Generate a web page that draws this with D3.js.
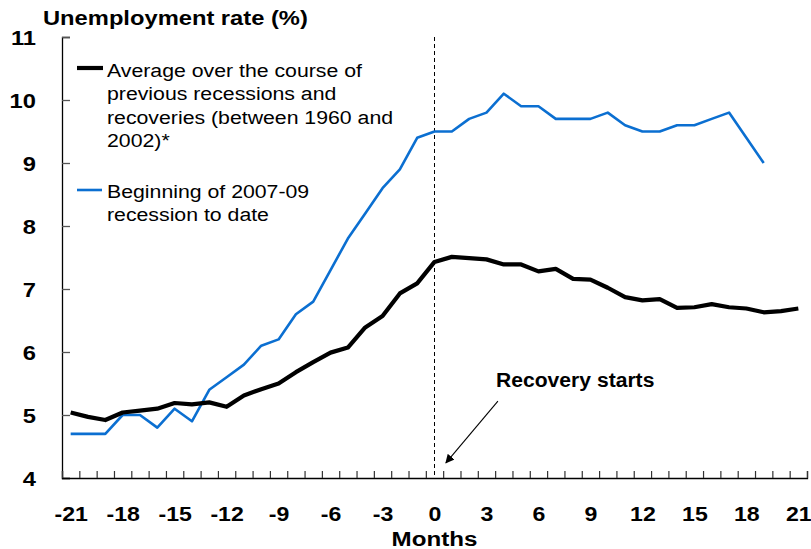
<!DOCTYPE html>
<html>
<head>
<meta charset="utf-8">
<script src="https://cdn.jsdelivr.net/npm/d3@7"></script>
<style>
  body { margin: 0; background: #fff; }
  svg { display: block; font-family: "Liberation Sans", Arial, Helvetica, sans-serif; }
</style>
</head>
<body>
<svg id="chart" width="811" height="549"></svg>
<script>
// Months relative to the start of the recovery (0 = trough)
const months = d3.range(-21, 22);

// Average unemployment rate over previous recessions and recoveries (1960-2002), %
const averageRate = [
  5.04, 4.97, 4.92, 5.04, 5.07, 5.10, 5.19, 5.17, 5.20, 5.13, 5.31,
  5.41, 5.50, 5.68, 5.84, 5.99, 6.07, 6.39, 6.57, 6.93, 7.09,
  7.43,
  7.51, 7.49, 7.47, 7.39, 7.39, 7.28, 7.32, 7.16, 7.15, 7.02,
  6.87, 6.82, 6.84, 6.70, 6.71, 6.76, 6.71, 6.69, 6.63, 6.65, 6.69
];

// Unemployment rate since the beginning of the 2007-09 recession, %
const currentRate = [
  4.7, 4.7, 4.7, 5.0, 5.0, 4.8, 5.1, 4.9, 5.4, 5.6, 5.8,
  6.1, 6.2, 6.6, 6.8, 7.3, 7.8, 8.2, 8.6, 8.9, 9.4,
  9.5,
  9.5, 9.7, 9.8, 10.1, 9.9, 9.9, 9.7, 9.7, 9.7, 9.8,
  9.6, 9.5, 9.5, 9.6, 9.6, 9.7, 9.8, 9.4, 9.0
];

const monthTicks = d3.range(-21, 22, 3);
const rateTicks = [4, 5, 6, 7, 8, 9, 10, 11];

const legendAverage = [
  "Average over the course of",
  "previous recessions and",
  "recoveries (between 1960 and",
  "2002)*"
];
const legendCurrent = [
  "Beginning of 2007-09",
  "recession to date"
];

const blue = "#0b6fd1";
const svg = d3.select("#chart");

const plot = { left: 62, right: 807, top: 37, bottom: 478 };

// Places a text at (px, py) with a slightly widened face
function placeText(sel, px, py, sx) {
  return sel.attr("x", 0).attr("y", 0)
    .attr("transform", `translate(${px},${py}) scale(${sx},1)`);
}

// Each month occupies one category slot; ticks sit on slot boundaries
const x = d3.scaleLinear()
  .domain([months[0] - 0.5, months[months.length - 1] + 0.5])
  .range([plot.left, plot.right]);
const y = d3.scaleLinear()
  .domain([4, 11])
  .range([plot.bottom, plot.top]);

// Y axis: ticks point into the plot
const yAxis = svg.append("g")
  .attr("transform", `translate(${plot.left},0)`)
  .call(d3.axisLeft(y).tickValues(rateTicks).tickSize(-8).tickPadding(26).tickFormat(d => String(d)));
yAxis.attr("font-size", 21).attr("font-family", null);
yAxis.select(".domain").attr("stroke", "#000").attr("stroke-width", 1.3);
yAxis.selectAll(".tick line").attr("stroke", "#555").attr("stroke-width", 1.3);
yAxis.selectAll(".tick text")
  .attr("fill", "#000").attr("font-weight", "bold")
  .attr("dy", null)
  .each(function () { placeText(d3.select(this), -26, 7.5, 1.13); });

// X axis: boundary ticks
const xTickAxis = svg.append("g")
  .attr("transform", `translate(0,${plot.bottom})`)
  .call(d3.axisBottom(x).tickValues(d3.range(months[0] - 0.5, months[months.length - 1] + 1, 1))
    .tickSize(-7).tickFormat(""));
xTickAxis.select(".domain").attr("stroke", "#000").attr("stroke-width", 1.3);
xTickAxis.selectAll(".tick line").attr("stroke", "#333").attr("stroke-width", 1.2);

// X axis: month labels every three months
const xLabelAxis = svg.append("g")
  .attr("transform", `translate(0,${plot.bottom})`)
  .call(d3.axisBottom(x).tickValues(monthTicks).tickSize(0).tickFormat(d => String(d)));
xLabelAxis.attr("font-size", 21).attr("font-family", null);
xLabelAxis.select(".domain").remove();
xLabelAxis.selectAll(".tick text")
  .attr("fill", "#000").attr("font-weight", "bold")
  .attr("dy", null)
  .each(function () { placeText(d3.select(this), 0, 43, 1.1); });

// Axis titles
placeText(svg.append("text"), 43, 25, 1.13)
  .attr("font-size", 21).attr("font-weight", "bold")
  .text("Unemployment rate (%)");
placeText(svg.append("text"), x(0), 545.5, 1.15)
  .attr("text-anchor", "middle")
  .attr("font-size", 21).attr("font-weight", "bold")
  .text("Months");

// Recovery start marker
svg.append("line")
  .attr("x1", x(0)).attr("x2", x(0))
  .attr("y1", y(11)).attr("y2", y(4))
  .attr("stroke", "#000").attr("stroke-width", 1)
  .attr("stroke-dasharray", "4,3");

// Series lines
const line = d3.line()
  .x((d, i) => x(months[i]))
  .y(d => y(d));

svg.append("path")
  .datum(currentRate)
  .attr("fill", "none")
  .attr("stroke", blue)
  .attr("stroke-width", 2.6)
  .attr("stroke-linejoin", "round")
  .attr("d", line);

svg.append("path")
  .datum(averageRate)
  .attr("fill", "none")
  .attr("stroke", "#000")
  .attr("stroke-width", 4.2)
  .attr("stroke-linejoin", "round")
  .attr("d", line);

// Annotation: arrow pointing at the start of the recovery
const defs = svg.append("defs");
defs.append("marker")
  .attr("id", "arrowhead")
  .attr("viewBox", "0 0 10 10")
  .attr("refX", 9).attr("refY", 5)
  .attr("markerWidth", 9).attr("markerHeight", 9)
  .attr("markerUnits", "userSpaceOnUse")
  .attr("orient", "auto")
  .append("path")
  .attr("d", "M0,0 L10,5 L0,10 z")
  .attr("fill", "#000");

svg.append("line")
  .attr("x1", x(3.66)).attr("y1", y(5.22))
  .attr("x2", x(0.66)).attr("y2", y(4.24))
  .attr("stroke", "#000").attr("stroke-width", 1.1)
  .attr("marker-end", "url(#arrowhead)");

placeText(svg.append("text"), x(3.55), y(5.45), 1.03)
  .attr("font-size", 20.5).attr("font-weight", "bold")
  .text("Recovery starts");

// Legend
const legend = svg.append("g").attr("font-size", 19).attr("fill", "#000");

legend.append("line")
  .attr("x1", 77).attr("x2", 103).attr("y1", 68).attr("y2", 68)
  .attr("stroke", "#000").attr("stroke-width", 4.2);
legend.selectAll("text.avg")
  .data(legendAverage).join("text")
  .attr("class", "avg")
  .text(d => d)
  .each(function (d, i) { placeText(d3.select(this), 107, 77 + i * 23.4, 1.12); });

legend.append("line")
  .attr("x1", 77).attr("x2", 102).attr("y1", 190).attr("y2", 190)
  .attr("stroke", blue).attr("stroke-width", 2.6);
legend.selectAll("text.cur")
  .data(legendCurrent).join("text")
  .attr("class", "cur")
  .text(d => d)
  .each(function (d, i) { placeText(d3.select(this), 107, 197.5 + i * 23.4, 1.12); });
</script>
</body>
</html>
